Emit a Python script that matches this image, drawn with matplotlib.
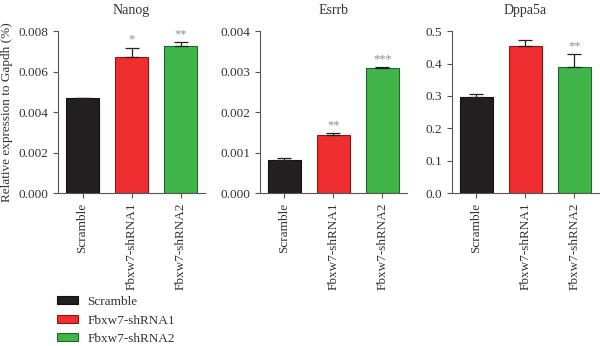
import matplotlib.pyplot as plt
from matplotlib.patches import Patch

plt.rcParams['font.family'] = ['Liberation Serif', 'DejaVu Serif']

# Data
groups = ["Scramble", "Fbxw7-shRNA1", "Fbxw7-shRNA2"]
colors = ["#231f20", "#ee2e2f", "#40b54a"]
edges = ["#111111", "#8a1a1a", "#226628"]

genes = ["Nanog", "Esrrb", "Dppa5a"]
nanog = [0.00468, 0.00674, 0.00726]
nanog_err = [0.00002, 0.00045, 0.00018]
esrrb = [0.000825, 0.001443, 0.003085]
esrrb_err = [0.000033, 0.000033, 0.00002]
dppa5a = [0.296, 0.4536, 0.3897]
dppa5a_err = [0.009, 0.0175, 0.040]

nanog_stars = ["", "*", "**"]
esrrb_stars = ["", "**", "***"]
dppa5a_stars = ["", "", "**"]

yticks_list = [
    [0.000, 0.002, 0.004, 0.006, 0.008],
    [0.000, 0.001, 0.002, 0.003, 0.004],
    [0.0, 0.1, 0.2, 0.3, 0.4, 0.5],
]
ytick_fmt = ["{:.3f}", "{:.3f}", "{:.1f}"]

values = [nanog, esrrb, dppa5a]
errors = [nanog_err, esrrb_err, dppa5a_err]
stars = [nanog_stars, esrrb_stars, dppa5a_stars]

fig = plt.figure(figsize=(6, 3.46), dpi=100)
lefts = [0.0967, 0.433, 0.753]

for i in range(3):
    ax = fig.add_axes([lefts[i], 0.442, 0.245, 0.468])
    x = list(range(len(groups)))
    ax.bar(x, values[i], width=0.67, color=colors, edgecolor=edges, linewidth=0.8, zorder=2)
    ax.errorbar(x, values[i], yerr=[[0, 0, 0], errors[i]], fmt='none',
                ecolor='#222222', elinewidth=0.9, capsize=5, capthick=0.9, zorder=3)
    top = yticks_list[i][-1]
    for xi, v, e, s in zip(x, values[i], errors[i], stars[i]):
        if s:
            ax.text(xi, v + e + top * 0.012, s, ha='center', va='bottom',
                    fontsize=9, color='#8c8c8c')
    ax.set_xlim(-0.5, 2.5)
    ax.set_ylim(0, top)
    ax.set_yticks(yticks_list[i])
    ax.set_yticklabels([ytick_fmt[i].format(t) for t in yticks_list[i]], fontsize=9.5, color='#333333')
    ax.set_xticks(x)
    ax.set_xticklabels(groups, rotation=90, fontsize=9.5, color='#333333')
    ax.set_title(genes[i], fontsize=10, color='#333333', pad=12)
    for side in ['top', 'right']:
        ax.spines[side].set_visible(False)
    for side in ['left', 'bottom']:
        ax.spines[side].set_color('#555555')
        ax.spines[side].set_linewidth(0.8)
    ax.tick_params(color='#555555', width=0.8, length=3.5)
    if i == 0:
        ax.set_ylabel("Relative expression to Gapdh (%)", fontsize=9.5, color='#333333')

handles = [Patch(facecolor=c, edgecolor=e, linewidth=0.8) for c, e in zip(colors, edges)]
fig.legend(handles, groups, loc='upper left', bbox_to_anchor=(0.086, 0.16),
           frameon=False, fontsize=9.5, handlelength=1.6, handleheight=0.55,
           handletextpad=0.7, labelspacing=0.5, labelcolor='#333333',
           borderaxespad=0.0)

fig.savefig("out.png", dpi=100)
